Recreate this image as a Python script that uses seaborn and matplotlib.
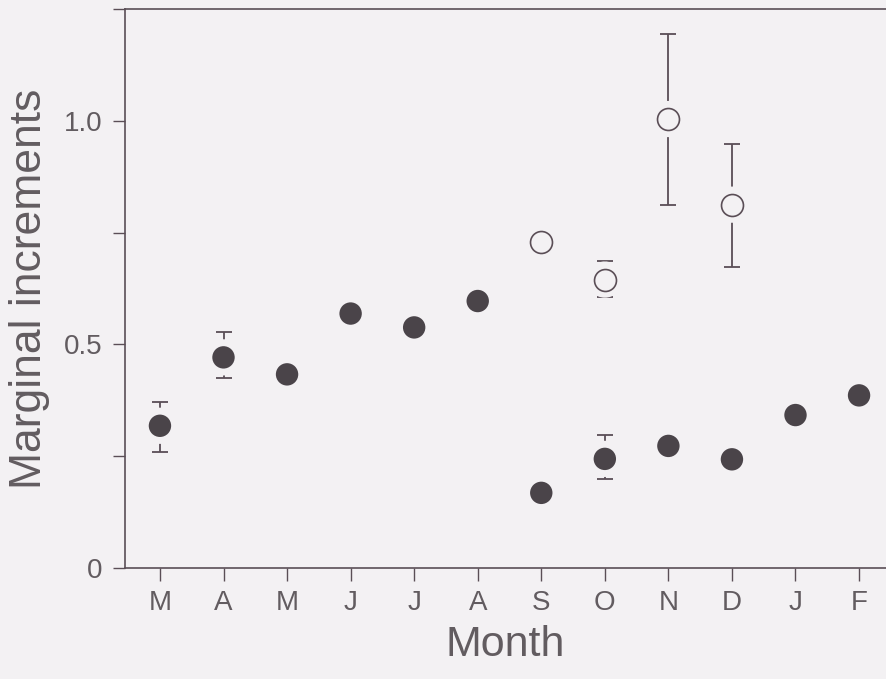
import seaborn as sns
import matplotlib.pyplot as plt
import numpy as np
import pandas as pd

months = ['M', 'A', 'M', 'J', 'J', 'A', 'S', 'O', 'N', 'D', 'J', 'F']

# filled circles (one per month)
filled_val = [0.318, 0.471, 0.433, 0.569, 0.538, 0.597, 0.168, 0.244, 0.273, 0.243, 0.342, 0.386]
filled_hi = [0.371, 0.527, np.nan, np.nan, np.nan, np.nan, np.nan, 0.298, np.nan, np.nan, np.nan, np.nan]
filled_lo = [0.260, 0.425, np.nan, np.nan, np.nan, np.nan, np.nan, 0.200, np.nan, np.nan, np.nan, np.nan]

# open circles (S, O, N, D)
open_pos = [6, 7, 8, 9]
open_val = [0.730, 0.645, 1.004, 0.8125]
open_hi = [np.nan, 0.686, 1.195, 0.948]
open_lo = [np.nan, 0.606, 0.8125, 0.674]

bg = '#f3f1f3'
line_c = '#5a4e56'
dot_c = '#4a4449'
txt_c = '#625c60'

sns.set_style('ticks')
plt.rcParams['font.family'] = ['Liberation Sans', 'DejaVu Sans']

filled = pd.DataFrame({'pos': np.arange(len(months)), 'val': filled_val,
                       'hi': filled_hi, 'lo': filled_lo})
opened = pd.DataFrame({'pos': open_pos, 'val': open_val, 'hi': open_hi, 'lo': open_lo})

fig = plt.figure(figsize=(8.86, 6.79), dpi=100, facecolor=bg)
ax = fig.add_axes([0.141, 0.1635, 0.859, 0.8232])
ax.set_facecolor(bg)

# error bars
for df in (filled, opened):
    e = df.dropna()
    ax.errorbar(e['pos'], e['val'], yerr=[e['val'] - e['lo'], e['hi'] - e['val']],
                fmt='none', ecolor=line_c, elinewidth=1.3, capsize=5.5, capthick=1.3, zorder=1)

# halo behind the markers so the bars stop short of them
allpts = pd.concat([filled, opened])
sns.scatterplot(data=allpts, x='pos', y='val', s=680, color=bg, edgecolor='none',
                ax=ax, zorder=2, legend=False)

sns.scatterplot(data=filled, x='pos', y='val', s=260, color=dot_c, edgecolor='none',
                ax=ax, zorder=3, legend=False)
sns.scatterplot(data=opened, x='pos', y='val', s=250, facecolor=bg, edgecolor=line_c,
                linewidth=1.2, ax=ax, zorder=3, legend=False)

ax.set_xlim(-0.551, 11.424)
ax.set_ylim(0, 1.25)
ax.set_xticks(range(len(months)))
ax.set_xticklabels(months)
ax.set_yticks([0, 0.25, 0.5, 0.75, 1.0, 1.25])
ax.set_yticklabels(['0', '', '0.5', '', '1.0', ''])

for s in ['left', 'bottom', 'top']:
    ax.spines[s].set_color(line_c)
    ax.spines[s].set_linewidth(1.2)
ax.spines['right'].set_visible(False)

ax.tick_params(axis='both', colors=line_c, width=1.0, length=9, labelcolor=txt_c, labelsize=20)
ax.tick_params(axis='y', pad=7)
ax.tick_params(axis='x', pad=7)

ax.set_xlabel('Month', fontsize=31, color=txt_c, labelpad=6)
ax.set_ylabel('Marginal increments', fontsize=32, color=txt_c, labelpad=10)

plt.savefig('out.png', dpi=100, facecolor=bg)
